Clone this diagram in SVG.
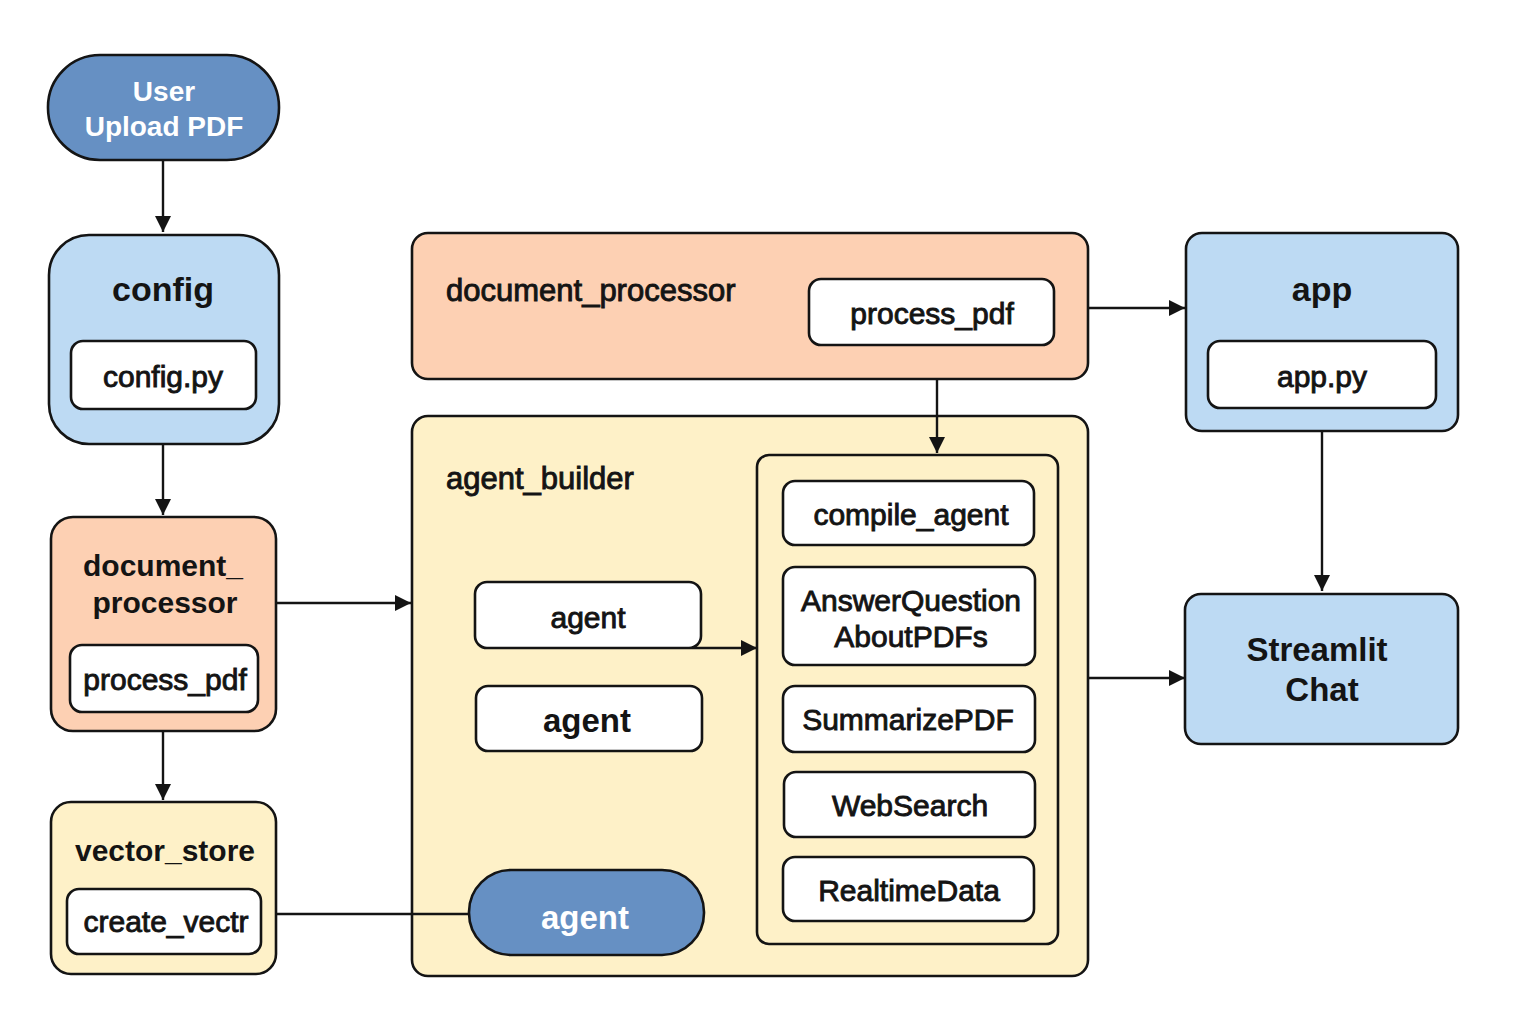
<svg xmlns="http://www.w3.org/2000/svg" width="1536" height="1024" viewBox="0 0 1536 1024">
<style>
text{font-family:"Liberation Sans",Arial,sans-serif;fill:#141414;text-anchor:middle}
.box{stroke:#141414;stroke-width:2.6}
.blue{fill:#BDDAF3}.dark{fill:#6690C3}.peach{fill:#FDD0B3}.yellow{fill:#FEF1C8}.white{fill:#fff}
.t{font-size:34px;font-weight:bold}
.m{font-size:30px;font-weight:bold}
.l{font-size:33px;font-weight:bold}
.i{font-size:30px;stroke:#141414;stroke-width:0.9}
.w{fill:#fff;font-weight:bold}
.c{fill:none;stroke:#141414;stroke-width:2.4}
</style>
<defs>
<marker id="a" viewBox="0 0 16 16" refX="16" refY="8" markerWidth="16" markerHeight="16" markerUnits="userSpaceOnUse" orient="auto">
<path d="M0,0 L16,8 L0,16 z" fill="#141414"/>
</marker>
</defs>
<rect width="1536" height="1024" fill="#fff"/>
<g id="user">
<rect class="box dark" x="48" y="55" width="231" height="105" rx="52"/>
<text class="w" x="164" y="101" font-size="28">User</text>
<text class="w" x="164" y="136" font-size="28">Upload PDF</text>
</g>
<g id="config">
<rect class="box blue" x="49" y="235" width="230" height="209" rx="40"/>
<text class="t" x="163" y="301">config</text>
<rect class="box white" x="71" y="341" width="185" height="68" rx="12"/>
<text class="i" x="163" y="387">config.py</text>
</g>
<g id="docproc-left">
<rect class="box peach" x="51" y="517" width="225" height="214" rx="22"/>
<text class="m" x="163" y="576">document_</text>
<text class="m" x="165" y="613">processor</text>
<rect class="box white" x="70" y="645" width="188" height="67" rx="12"/>
<text class="i" x="165" y="690">process_pdf</text>
</g>
<g id="vector-store">
<rect class="box yellow" x="51" y="802" width="225" height="172" rx="20"/>
<text class="m" x="165" y="861">vector_store</text>
<rect class="box white" x="67" y="889" width="194" height="65" rx="12"/>
<text class="i" x="166" y="932">create_vectr</text>
</g>
<g id="docproc-top">
<rect class="box peach" x="412" y="233" width="676" height="146" rx="16"/>
<text class="i" x="446" y="301" style="font-size:31px;text-anchor:start">document_processor</text>
<rect class="box white" x="809" y="279" width="245" height="66" rx="12"/>
<text class="i" x="932" y="324">process_pdf</text>
</g>
<g id="agent-builder">
<rect class="box yellow" x="412" y="416" width="676" height="560" rx="16"/>
<text class="i" x="446" y="489" style="font-size:31px;text-anchor:start">agent_builder</text>
<rect class="box yellow" x="757" y="455" width="301" height="489" rx="12"/>
</g>
<g id="agent1">
<rect class="box white" x="475" y="582" width="226" height="66" rx="12"/>
<text class="i" x="588" y="628">agent</text>
</g>
<g id="agent2">
<rect class="box white" x="476" y="686" width="226" height="65" rx="12"/>
<text class="l" x="587" y="732">agent</text>
</g>
<g id="agent3">
<rect class="box dark" x="469" y="870" width="235" height="85" rx="42"/>
<text class="l w" x="585" y="929">agent</text>
</g>
<g id="compile-agent">
<rect class="box white" x="783" y="481" width="251" height="64" rx="12"/>
<text class="i" x="911" y="525">compile_agent</text>
</g>
<g id="answer">
<rect class="box white" x="783" y="567" width="252" height="98" rx="12"/>
<text class="i" x="911" y="611">AnswerQuestion</text>
<text class="i" x="911" y="647">AboutPDFs</text>
</g>
<g id="summarize">
<rect class="box white" x="783" y="686" width="252" height="66" rx="12"/>
<text class="i" x="908" y="730">SummarizePDF</text>
</g>
<g id="websearch">
<rect class="box white" x="784" y="772" width="251" height="65" rx="12"/>
<text class="i" x="910" y="816">WebSearch</text>
</g>
<g id="realtime">
<rect class="box white" x="783" y="857" width="251" height="64" rx="12"/>
<text class="i" x="909" y="901">RealtimeData</text>
</g>
<g id="app">
<rect class="box blue" x="1186" y="233" width="272" height="198" rx="16"/>
<text class="t" x="1322" y="301">app</text>
<rect class="box white" x="1208" y="341" width="228" height="67" rx="12"/>
<text class="i" x="1322" y="387">app.py</text>
</g>
<g id="streamlit">
<rect class="box blue" x="1185" y="594" width="273" height="150" rx="16"/>
<text class="l" x="1317" y="661">Streamlit</text>
<text class="l" x="1322" y="701">Chat</text>
</g>
<g id="connectors">
<path class="c" d="M163,160 V232" marker-end="url(#a)"/>
<path class="c" d="M163,444 V515" marker-end="url(#a)"/>
<path class="c" d="M163,731 V800" marker-end="url(#a)"/>
<path class="c" d="M276,603 H411" marker-end="url(#a)"/>
<path class="c" d="M276,914 H469"/>
<path class="c" d="M1088,308 H1185" marker-end="url(#a)"/>
<path class="c" d="M937,379 V453" marker-end="url(#a)"/>
<path class="c" d="M692,648 H757" marker-end="url(#a)"/>
<path class="c" d="M1322,431 V591" marker-end="url(#a)"/>
<path class="c" d="M1088,678 H1185" marker-end="url(#a)"/>
</g>
</svg>
